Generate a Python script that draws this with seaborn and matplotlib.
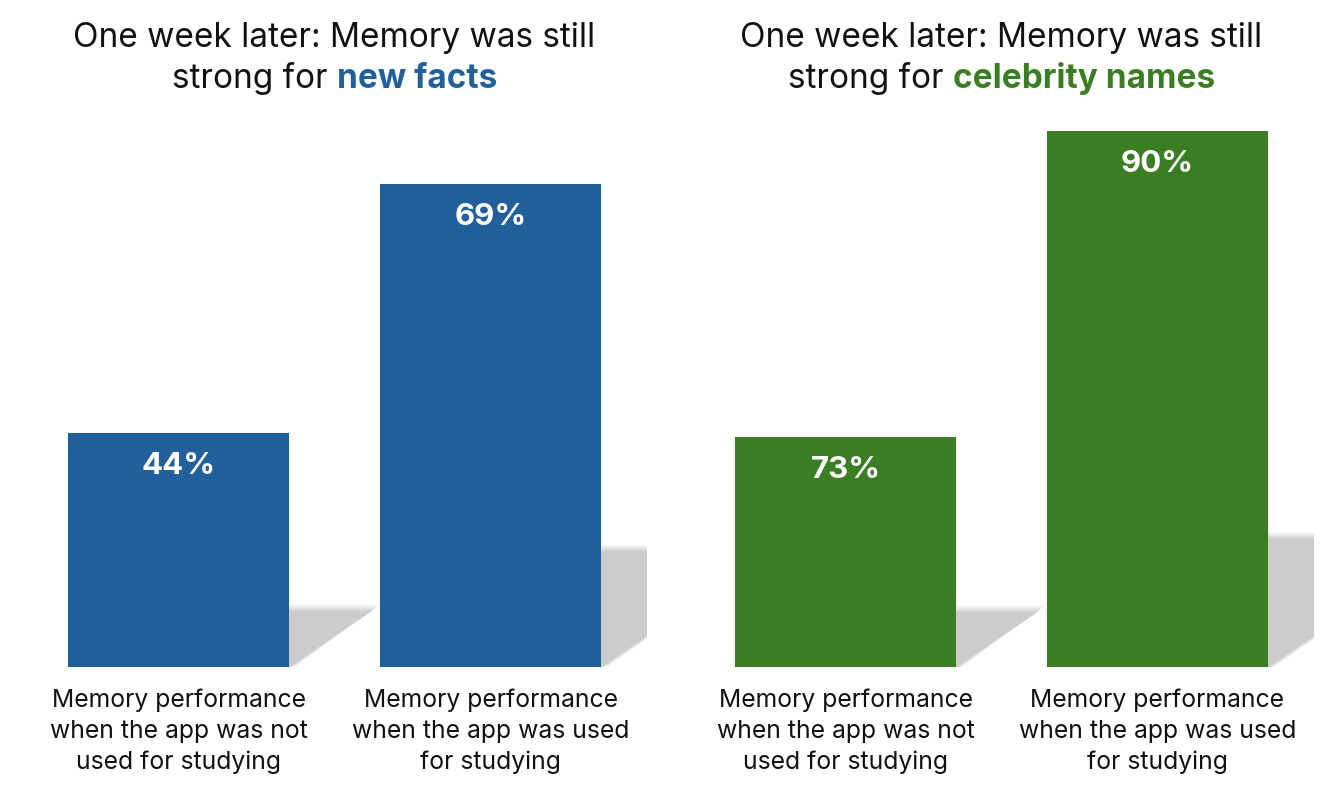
import matplotlib
matplotlib.use("Agg")
import matplotlib.pyplot as plt
import seaborn as sns
import pandas as pd
from matplotlib.patches import Polygon

# ---- data ----
categories = ["Memory performance\nwhen the app was not\nused for studying",
              "Memory performance\nwhen the app was used\nfor studying"]
facts_values = [44, 69]
celeb_values = [73, 90]
title_line1 = "One week later: Memory was still"
title_prefix = "strong for "
facts_accent = "new facts"
celeb_accent = "celebrity names"

BLUE = "#21609B"
GREEN = "#3B7D23"

sns.set_theme(style="white")
plt.rcParams['font.family'] = ['Inter', 'DejaVu Sans']

W, H = 1336, 787
fig = plt.figure(figsize=(W / 100, H / 100), dpi=100)

def px_axes(x0, x1, ytop, ybot):
    return [x0 / W, (H - ybot) / H, (x1 - x0) / W, (ybot - ytop) / H]

panels = [
    dict(rect=px_axes(22.5, 646.5, 117, 667), vals=facts_values, color=BLUE,
         accent=facts_accent, ylim=(20.5, 20.5 + 550 / 9.96)),
    dict(rect=px_axes(689.5, 1313.5, 117, 667), vals=celeb_values, color=GREEN,
         accent=celeb_accent, ylim=(60.2, 60.2 + 550 / 18.0)),
]

renderer = fig.canvas.get_renderer()

for p in panels:
    ax = fig.add_axes(p["rect"])
    df = pd.DataFrame({"cat": categories, "val": p["vals"]})
    sns.barplot(data=df, x="cat", y="val", color=p["color"], width=0.71,
                saturation=1, ax=ax, zorder=3, linewidth=0, edgecolor="none")
    y0, y1 = p["ylim"]
    ax.set_ylim(y0, y1)
    ax.set_xlim(-0.5, 1.5)
    axh_px = 550.0
    px_per_y = axh_px / (y1 - y0)
    px_per_x = 312.0
    # shadows (soft edge simulated by layered polygons)
    for i, v in enumerate(p["vals"]):
        hpx = (v - y0) * px_per_y
        dx = 0.355 * hpx / px_per_x
        sh = y0 + 0.24 * (v - y0)
        xl, xr = i - 0.355, i + 0.355
        layers = [(6, "#f3f3f3"), (4, "#e6e6e6"), (2, "#d9d9d9"), (0, "#cccccc")]
        for g, col in layers:
            gx = g / px_per_x
            gy = g / px_per_y
            poly = Polygon([(xl, y0), (xr + gx, y0),
                            (xr + dx + gx, sh + gy), (xl + dx, sh + gy)],
                           closed=True, fc=col, ec="none", zorder=1)
            ax.add_patch(poly)
        ax.text(i, v - 33 / px_per_y, f"{v}%", ha="center", va="center",
                color="white", fontsize=22.5, fontweight="bold", zorder=4)
    ax.set_xlabel("")
    ax.set_ylabel("")
    ax.set_yticks([])
    ax.tick_params(axis="x", length=0, pad=15.5, labelsize=17.8, colors="#111111")
    for t in ax.get_xticklabels():
        t.set_linespacing(1.42)
    for s in ax.spines.values():
        s.set_visible(False)

    # titles
    x0f, _, wf, _ = p["rect"]
    cx = (x0f + wf / 2)
    fig.text(cx, 1 - 38.5 / H, title_line1, ha="center", va="center",
             fontsize=24, color="#111111")
    t1 = fig.text(0, 1 - 78.5 / H, title_prefix, ha="left", va="center",
                  fontsize=24, color="#111111")
    t2 = fig.text(0, 1 - 78.5 / H, p["accent"], ha="left", va="center",
                  fontsize=24, color=p["color"], fontweight="bold")
    w1 = t1.get_window_extent(renderer).width / W
    w2 = t2.get_window_extent(renderer).width / W
    start = cx - (w1 + w2) / 2
    t1.set_x(start)
    t2.set_x(start + w1)

fig.savefig("out.png", dpi=100)
